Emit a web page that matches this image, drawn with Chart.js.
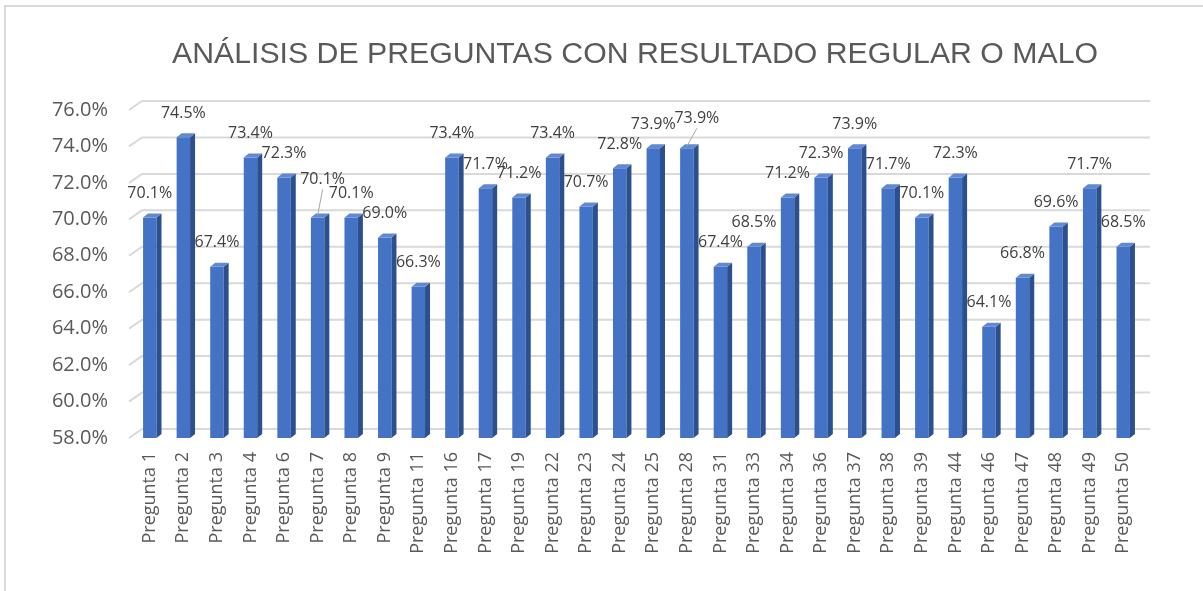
<!DOCTYPE html>
<html>
<head>
<meta charset="utf-8">
<script src="https://cdn.jsdelivr.net/npm/chart.js@4.4.1/dist/chart.umd.min.js"></script>
<style>
  html, body { margin: 0; padding: 0; background: #fff; }
</style>
</head>
<body>
<canvas id="preguntasChart" width="1203" height="591"></canvas>
<script>
const titulo = 'ANÁLISIS DE PREGUNTAS CON RESULTADO REGULAR O MALO';

const preguntas = [
    'Pregunta 1', 'Pregunta 2', 'Pregunta 3', 'Pregunta 4', 'Pregunta 6',
    'Pregunta 7', 'Pregunta 8', 'Pregunta 9', 'Pregunta 11', 'Pregunta 16',
    'Pregunta 17', 'Pregunta 19', 'Pregunta 22', 'Pregunta 23', 'Pregunta 24',
    'Pregunta 25', 'Pregunta 28', 'Pregunta 31', 'Pregunta 33', 'Pregunta 34',
    'Pregunta 36', 'Pregunta 37', 'Pregunta 38', 'Pregunta 39', 'Pregunta 44',
    'Pregunta 46', 'Pregunta 47', 'Pregunta 48', 'Pregunta 49', 'Pregunta 50'
];

const porcentajes = [
    70.1, 74.5, 67.4, 73.4, 72.3,
    70.1, 70.1, 69.0, 66.3, 73.4,
    71.7, 71.2, 73.4, 70.7, 72.8,
    73.9, 73.9, 67.4, 68.5, 71.2,
    72.3, 73.9, 71.7, 70.1, 72.3,
    64.1, 66.8, 69.6, 71.7, 68.5
];

const ejeMin = 58;
const ejeMax = 76;
const ejePaso = 2;

// colores de las columnas con efecto 3D
const azulFrente = '#4472C4';
const azulLado = '#2C4F8E';
const azulTapa = '#6189D2';
const PROF = 5;   // profundidad de la columna
const ALTO = 4;   // desplazamiento vertical del fondo

// etiquetas desplazadas (con línea guía) para que no se monten
const ajusteEtiquetas = {
    5: { dx: 5, sube: 38, guia: true },
    16: { dx: 10, sube: 30, guia: true }
};

const fmt = v => v.toFixed(1) + '%';

const marcoYTitulo = {
    id: 'marcoYTitulo',
    beforeDraw(chart) {
        const ctx = chart.ctx;
        ctx.save();
        ctx.fillStyle = '#ffffff';
        ctx.fillRect(0, 0, chart.width, chart.height);
        ctx.strokeStyle = '#d9d9d9';
        ctx.lineWidth = 2;
        ctx.strokeRect(5, 6, chart.width + 20, chart.height + 20);

        // título ajustado al ancho de la hoja original
        ctx.font = '30px "Liberation Sans", Arial, sans-serif';
        const ancho = ctx.measureText(titulo).width;
        ctx.translate(635, 63);
        ctx.scale(926 / ancho, 1);
        ctx.fillStyle = '#595959';
        ctx.textAlign = 'center';
        ctx.textBaseline = 'alphabetic';
        ctx.fillText(titulo, 0, 0);
        ctx.restore();
    }
};

const rejilla3D = {
    id: 'rejilla3D',
    beforeDatasetsDraw(chart) {
        const { ctx, chartArea, scales } = chart;
        const y = scales.y;
        ctx.save();
        ctx.strokeStyle = '#d9d9d9';
        ctx.lineWidth = 2;
        for (let v = ejeMin; v <= ejeMax; v += ejePaso) {
            const py = y.getPixelForValue(v);
            ctx.beginPath();
            ctx.moveTo(chartArea.left - 4, py);
            ctx.lineTo(chartArea.left + 9, py - 9);
            ctx.lineTo(chartArea.right + 10, py - 9);
            ctx.stroke();
        }
        ctx.restore();
    }
};

const columnas3D = {
    id: 'columnas3D',
    afterDatasetsDraw(chart) {
        const ctx = chart.ctx;
        const suelo = chart.chartArea.bottom;
        const meta = chart.getDatasetMeta(0);
        ctx.save();
        meta.data.forEach(bar => {
            const izq = bar.x - bar.width / 2;
            const der = bar.x + bar.width / 2;
            const base = Math.min(bar.base, suelo);
            // lateral
            ctx.fillStyle = azulLado;
            ctx.beginPath();
            ctx.moveTo(der, bar.y);
            ctx.lineTo(der + PROF, bar.y - ALTO);
            ctx.lineTo(der + PROF, base - ALTO);
            ctx.lineTo(der, base);
            ctx.closePath();
            ctx.fill();
            // tapa
            ctx.fillStyle = azulTapa;
            ctx.beginPath();
            ctx.moveTo(izq, bar.y);
            ctx.lineTo(izq + PROF, bar.y - ALTO);
            ctx.lineTo(der + PROF, bar.y - ALTO);
            ctx.lineTo(der, bar.y);
            ctx.closePath();
            ctx.fill();
        });

        // etiquetas de valor
        ctx.font = '16px "Open Sans", sans-serif';
        ctx.fillStyle = '#404040';
        ctx.textAlign = 'center';
        ctx.textBaseline = 'middle';
        meta.data.forEach((bar, i) => {
            const aj = ajusteEtiquetas[i] || { dx: 0, sube: 24, guia: false };
            const tx = bar.x + aj.dx;
            const ty = bar.y - aj.sube;
            ctx.fillText(fmt(porcentajes[i]), tx, ty);
            if (aj.guia) {
                ctx.strokeStyle = '#a6a6a6';
                ctx.lineWidth = 1;
                ctx.beginPath();
                ctx.moveTo(tx, ty + 10);
                ctx.lineTo(bar.x, bar.y - 2);
                ctx.stroke();
            }
        });
        ctx.restore();
    }
};

const ctx = document.getElementById('preguntasChart');

new Chart(ctx, {
    type: 'bar',
    data: {
        labels: preguntas,
        datasets: [{
            data: porcentajes,
            backgroundColor: azulFrente,
            borderWidth: 0,
            barPercentage: 0.4,
            categoryPercentage: 1
        }]
    },
    plugins: [marcoYTitulo, rejilla3D, columnas3D],
    options: {
        responsive: false,
        animation: false,
        layout: {
            padding: { top: 110, right: 63, left: 0, bottom: 0 }
        },
        plugins: {
            legend: { display: false },
            tooltip: { enabled: false },
            title: { display: false }
        },
        scales: {
            x: {
                grid: { display: false, drawTicks: false },
                border: { display: false },
                ticks: {
                    autoSkip: false,
                    maxRotation: 90,
                    minRotation: 90,
                    padding: 14,
                    color: '#595959',
                    font: { family: '"Open Sans", sans-serif', size: 18 }
                },
                afterFit(scale) { scale.height = 153; }
            },
            y: {
                min: ejeMin,
                max: ejeMax,
                grid: { display: false, drawTicks: false },
                border: { display: false },
                ticks: {
                    stepSize: ejePaso,
                    padding: 25,
                    color: '#595959',
                    font: { family: '"Open Sans", sans-serif', size: 20 },
                    callback: v => fmt(v)
                },
                afterFit(scale) { scale.width = 133; }
            }
        }
    }
});
</script>
</body>
</html>
